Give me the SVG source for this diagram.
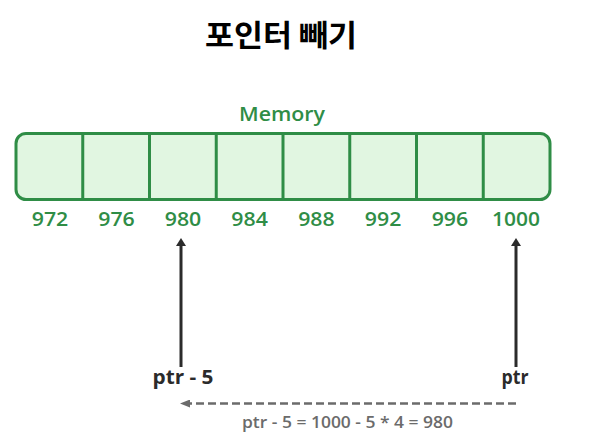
<svg xmlns="http://www.w3.org/2000/svg" width="600" height="443" viewBox="0 0 600 443">
<style>
.title{font-family:"Noto Sans CJK KR","Noto Sans",sans-serif;font-weight:700;font-size:30px;fill:#000}
.g{font-family:"Open Sans","Liberation Sans",sans-serif;font-weight:600;fill:#2f8d46}
.addr{font-size:20px}
.lbl{font-family:"Open Sans","Liberation Sans",sans-serif;font-weight:700;font-size:20px;fill:#2b2b2b}
.eq{font-family:"Open Sans","Liberation Sans",sans-serif;font-weight:600;font-size:15.5px;fill:#6b6b6b}
.cell{stroke:#2f8d46;stroke-width:3;fill:none}
.ptr{stroke:#2b2b2b;stroke-width:3;fill:none}
</style>
<defs>
<marker id="ah" markerWidth="8" markerHeight="10" refX="0" refY="5" orient="auto" markerUnits="userSpaceOnUse" viewBox="0 0 8 10">
<path d="M0,0 L8,5 L0,10 Z" fill="#2b2b2b"/>
</marker>
<marker id="ahg" markerWidth="10" markerHeight="8" refX="0" refY="4" orient="auto" markerUnits="userSpaceOnUse" viewBox="0 0 10 8">
<path d="M0,0 L10,4 L0,8 Z" fill="#6b6b6b"/>
</marker>
</defs>
<rect width="600" height="443" fill="#fff"/>
<text class="title" x="281" y="46" text-anchor="middle" textLength="152" lengthAdjust="spacingAndGlyphs">포인터 빼기</text>
<g id="memory">
<text class="g" x="282" y="121" text-anchor="middle" font-size="20" textLength="86" lengthAdjust="spacingAndGlyphs">Memory</text>
<rect x="16" y="133.5" width="534" height="66" rx="10" fill="#e1f6e1" stroke="#2f8d46" stroke-width="3"/>
<path class="cell" d="M82.75,133.5V199.5M149.5,133.5V199.5M216.25,133.5V199.5M283,133.5V199.5M349.75,133.5V199.5M416.5,133.5V199.5M483.25,133.5V199.5"/>
<g class="g addr" text-anchor="middle">
<text x="50" y="226" textLength="36.5" lengthAdjust="spacingAndGlyphs">972</text>
<text x="116.5" y="226" textLength="36.5" lengthAdjust="spacingAndGlyphs">976</text>
<text x="183" y="226" textLength="36.5" lengthAdjust="spacingAndGlyphs">980</text>
<text x="249.6" y="226" textLength="36.5" lengthAdjust="spacingAndGlyphs">984</text>
<text x="316.4" y="226" textLength="36.5" lengthAdjust="spacingAndGlyphs">988</text>
<text x="383.1" y="226" textLength="36.5" lengthAdjust="spacingAndGlyphs">992</text>
<text x="449.9" y="226" textLength="36.5" lengthAdjust="spacingAndGlyphs">996</text>
<text x="516" y="226" textLength="48" lengthAdjust="spacingAndGlyphs">1000</text>
</g>
</g>
<g id="connectors">
<line class="ptr" x1="181" y1="367" x2="181" y2="246" marker-end="url(#ah)"/>
<line class="ptr" x1="516" y1="367" x2="516" y2="246" marker-end="url(#ah)"/>
<line x1="516" y1="403.5" x2="190" y2="403.5" stroke="#6b6b6b" stroke-width="2.5" stroke-dasharray="8,4" marker-end="url(#ahg)"/>
</g>
<g id="ptr-minus-5"><text class="lbl" x="183" y="384" text-anchor="middle" textLength="61" lengthAdjust="spacingAndGlyphs">ptr - 5</text></g>
<g id="ptr"><text class="lbl" x="515" y="384" text-anchor="middle" textLength="27" lengthAdjust="spacingAndGlyphs">ptr</text></g>
<g id="equation"><text class="eq" x="347.5" y="428" text-anchor="middle" textLength="211" lengthAdjust="spacingAndGlyphs">ptr - 5 = 1000 - 5 * 4 = 980</text></g>
</svg>
